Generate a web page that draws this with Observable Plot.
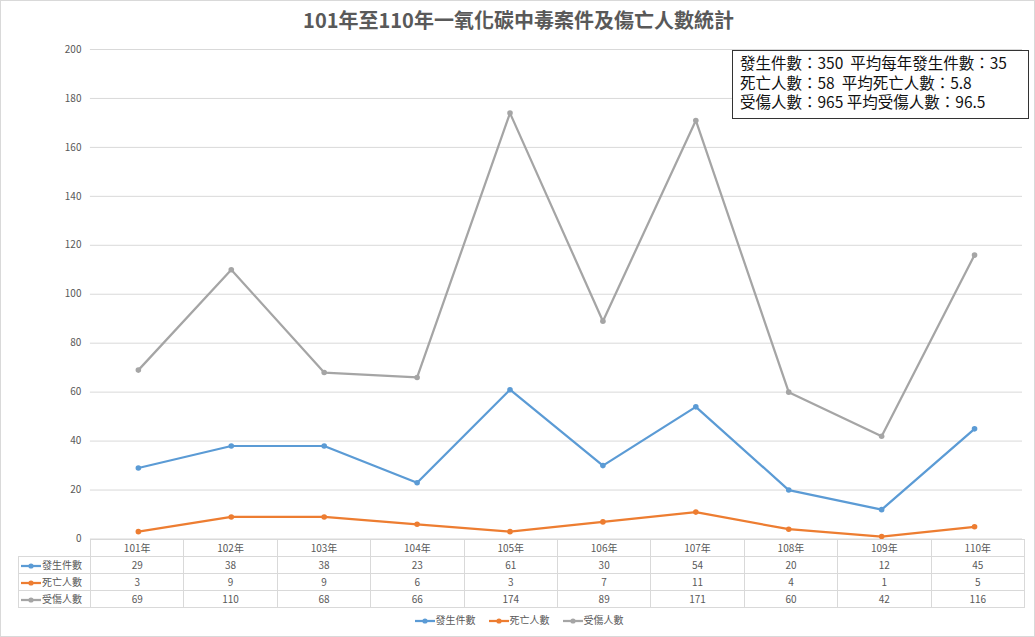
<!DOCTYPE html>
<html>
<head>
<meta charset="utf-8">
<script src="https://cdn.jsdelivr.net/npm/d3@7"></script>
<script src="https://cdn.jsdelivr.net/npm/@observablehq/plot@0.6"></script>
<style>
  html, body { margin: 0; padding: 0; background: #fff; }
  body { font-family: "Noto Sans CJK TC", "Noto Sans", sans-serif; }
  #wrap { position: relative; width: 1035px; height: 637px; box-sizing: border-box; border: 1px solid #d9d9d9; overflow: hidden; }
  #title { position: absolute; left: 0; top: 5px; width: 1035px; text-align: center; font-size: 20px; font-weight: bold; color: #595959; line-height: 28px; }
  #chart { position: absolute; left: -1px; top: 35px; }
  #stats { position: absolute; left: 731px; top: 49px; width: 297px; height: 69px; box-sizing: border-box; border: 1px solid #333; background: #fff; font-size: 15.5px; line-height: 19.5px; padding: 2px 0 0 7px; color: #111; white-space: pre; }
  #tbl { position: absolute; z-index: 2; left: 17px; top: 538px; border-collapse: collapse; table-layout: fixed; font-size: 10px; color: #595959; }
  #tbl td { border: 1px solid #d9d9d9; height: 16px; padding: 0; text-align: center; line-height: 16px; }
  #tbl td.lab { text-align: left; white-space: nowrap; padding-left: 1px; }
  #tbl td.blank { border: none; }
  #legend { position: absolute; top: 611px; left: 0; width: 1035px; text-align: center; font-size: 10px; color: #595959; }
  #legend span.item { margin: 0 6px; }
  svg.ic { vertical-align: middle; }
</style>
</head>
<body>
<div id="wrap">
  <div id="title"></div>
  <div id="chart"></div>
  <div id="stats"></div>
  <table id="tbl"></table>
  <div id="legend"></div>
</div>
<script>
const years = ["101年","102年","103年","104年","105年","106年","107年","108年","109年","110年"];
const incidents = [29, 38, 38, 23, 61, 30, 54, 20, 12, 45];
const deaths = [3, 9, 9, 6, 3, 7, 11, 4, 1, 5];
const injuries = [69, 110, 68, 66, 174, 89, 171, 60, 42, 116];
const seriesNames = ["發生件數", "死亡人數", "受傷人數"];
const seriesColors = ["#5B9BD5", "#ED7D31", "#A5A5A5"];
const yTicks = [0, 20, 40, 60, 80, 100, 120, 140, 160, 180, 200];
const titleText = "101年至110年一氧化碳中毒案件及傷亡人數統計";
const statsLines = [
  "發生件數：350  平均每年發生件數：35",
  "死亡人數：58  平均死亡人數：5.8",
  "受傷人數：965 平均受傷人數：96.5"
];

const seriesValues = [incidents, deaths, injuries];
const rows = [];
seriesValues.forEach((vals, si) => vals.forEach((v, i) => rows.push({year: years[i], value: v, series: seriesNames[si]})));

document.getElementById("title").textContent = titleText;
document.getElementById("stats").textContent = statsLines.join("\n");

const chart = Plot.plot({
  width: 1035,
  height: 512,
  marginTop: 13,
  marginBottom: 9,
  marginLeft: 90,
  marginRight: 12,
  style: {fontFamily: "'Noto Sans CJK TC', sans-serif", fontSize: "10px", color: "#595959", background: "transparent"},
  x: {type: "point", domain: years, padding: 0.5, axis: null},
  y: {domain: [0, 200], ticks: yTicks, label: null},
  color: {domain: seriesNames, range: seriesColors},
  marks: [
    Plot.gridY(yTicks, {stroke: "#d9d9d9", strokeOpacity: 1}),
    Plot.axisY(yTicks, {tickSize: 0, tickPadding: 9, fill: "#595959", fontSize: 10, label: null}),
    Plot.line(rows, {x: "year", y: "value", z: "series", stroke: "series", strokeWidth: 2.25}),
    Plot.dot(rows, {x: "year", y: "value", fill: "series", r: 2.8})
  ]
});
document.getElementById("chart").appendChild(chart);

function icon(color) {
  return `<svg class="ic" width="22" height="8"><line x1="1" y1="4" x2="21" y2="4" stroke="${color}" stroke-width="2.25"/><circle cx="11" cy="4" r="2.6" fill="${color}"/></svg>`;
}

const colW = (1023 - 89) / years.length;
let html = `<colgroup><col style="width:72px">${years.map(() => `<col style="width:${colW}px">`).join("")}</colgroup>`;
html += `<tr><td class="blank"></td>${years.map(y => `<td>${y}</td>`).join("")}</tr>`;
seriesValues.forEach((vals, si) => {
  html += `<tr><td class="lab">${icon(seriesColors[si])}${seriesNames[si]}</td>${vals.map(v => `<td>${v}</td>`).join("")}</tr>`;
});
document.getElementById("tbl").innerHTML = html;

document.getElementById("legend").innerHTML = seriesNames.map((n, i) => `<span class="item">${icon(seriesColors[i])}${n}</span>`).join("");
</script>
</body>
</html>
